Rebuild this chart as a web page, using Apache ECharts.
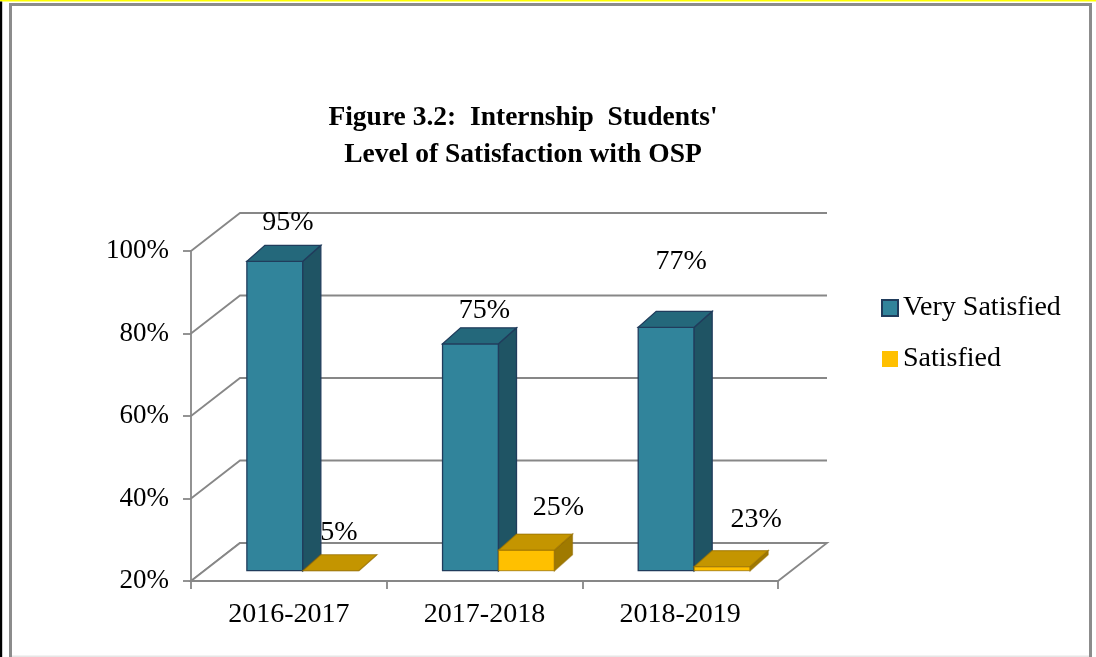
<!DOCTYPE html>
<html><head><meta charset="utf-8">
<script src="https://cdn.jsdelivr.net/npm/echarts@6/dist/echarts.min.js"></script>
<style>html,body{margin:0;padding:0;background:#fff}#c{width:1096px;height:657px}</style>
</head><body><div id="c"></div>
<script>
// ---- data ----
const categories = ['2016-2017', '2017-2018', '2018-2019'];
const verySatisfied = [95, 75, 79];
const satisfied = [5, 25, 21];
const verySatisfiedLabels = ['95%', '75%', '77%'];
const satisfiedLabels = ['5%', '25%', '23%'];
const yTicks = [20, 40, 60, 80, 100];
const yMin = 20, yMax = 100, yInterval = 20;
const titleText = "Figure 3.2:  Internship  Students'\nLevel of Satisfaction with OSP";

// ---- layout / style ----
const FONT = '"Liberation Serif", "Times New Roman", serif';
const LINE = '#878787';
const DEPTH = [49, -38];
const RECESS = [14, -10.3];
const BAR_DEPTH = [18, -16];
const BAR_FRAC = 0.286;
const LABEL_OFF_VS = [[13, -39], [14, -33], [15, -66]];
const LABEL_OFF_S = [[8, -38], [32, -42], [34, -47]];
const VS_COL = { front: '#31849b', top: '#24687b', side: '#1f5464', stroke: '#203c5c' };
const S_COL = { front: '#ffc000', top: '#c49500', side: '#a07a00', stroke: 'rgba(150,110,0,0.6)' };

function renderFrame(params, api) {
  const cs = params.coordSys;
  const x0 = cs.x, x1 = cs.x + cs.width;
  const dx = DEPTH[0], dy = DEPTH[1];
  const children = [];
  const ls = { stroke: LINE, lineWidth: 1.8, fill: null };
  yTicks.forEach(function (v) {
    const y = api.coord([0, v])[1];
    children.push({ type: 'polyline', shape: { points: [[x0, y], [x0 + dx, y + dy], [x1 + dx, y + dy]] }, style: ls });
  });
  const yb = api.coord([0, yMin])[1];
  children.push({ type: 'polygon', shape: { points: [[x0, yb], [x1, yb], [x1 + dx, yb + dy], [x0 + dx, yb + dy]] },
    style: { fill: '#ffffff', stroke: LINE, lineWidth: 1.8 } });
  return { type: 'group', children: children };
}

function makeBarRender(labels, side, col, offs) {
  return function (params, api) {
    const i = api.value(0);
    const v = Math.max(api.value(1), yMin);
    const top = api.coord([i, v]);
    const base = api.coord([i, yMin]);
    const w = api.size([1, 0])[0] * BAR_FRAC;
    const rx = RECESS[0], ry = RECESS[1], bx = BAR_DEPTH[0], by = BAR_DEPTH[1];
    const xl = top[0] + rx + (side < 0 ? -w : 0);
    const xr = xl + w;
    const yt = top[1] + ry, yb = base[1] + ry;
    const children = [];
    children.push({ type: 'rect', shape: { x: xl, y: yt, width: w, height: Math.max(yb - yt, 0) },
      style: { fill: col.front, stroke: col.stroke, lineWidth: 1.3 } });
    children.push({ type: 'polygon', shape: { points: [[xr, yt], [xr + bx, yt + by], [xr + bx, yb + by], [xr, yb]] },
      style: { fill: col.side, stroke: col.stroke, lineWidth: 1.3 } });
    children.push({ type: 'polygon', shape: { points: [[xl, yt], [xr, yt], [xr + bx, yt + by], [xl + bx, yt + by]] },
      style: { fill: col.top, stroke: col.stroke, lineWidth: 1.3 } });
    const off = offs[params.dataIndex];
    children.push({ type: 'text', style: { text: labels[params.dataIndex], x: (xl + xr) / 2 + off[0], y: yt + off[1],
      align: 'center', verticalAlign: 'middle', font: '28px ' + FONT, fill: '#000' } });
    return { type: 'group', children: children };
  };
}

const chart = echarts.init(document.getElementById('c'), null, { renderer: 'canvas' });
chart.setOption({
  animation: false,
  backgroundColor: '#ffffff',
  grid: { left: 191, right: 318, top: 251, bottom: 76, containLabel: false },
  xAxis: {
    type: 'category', data: categories,
    axisLine: { show: true, lineStyle: { color: LINE, width: 1.8 } },
    axisTick: { show: true, length: 8, lineStyle: { color: LINE, width: 1.8 } },
    axisLabel: { color: '#000', fontFamily: FONT, fontSize: 28, margin: 20 },
    splitLine: { show: false }
  },
  yAxis: {
    type: 'value', min: yMin, max: yMax, interval: yInterval,
    axisLine: { show: true, lineStyle: { color: LINE, width: 1.8 } },
    axisTick: { show: true, length: 8, lineStyle: { color: LINE, width: 1.8 } },
    axisLabel: { color: '#000', fontFamily: FONT, fontSize: 27, margin: 22, formatter: '{value}%' },
    splitLine: { show: false }
  },
  legend: {
    orient: 'vertical', left: 881, top: 294, padding: 0, itemWidth: 16, itemHeight: 16, itemGap: 23,
    textStyle: { color: '#000', fontFamily: FONT, fontSize: 28 },
    data: [
      { name: 'Very Satisfied', icon: 'rect', itemStyle: { color: VS_COL.front, borderColor: VS_COL.stroke, borderWidth: 2 } },
      { name: 'Satisfied', icon: 'rect', itemStyle: { color: S_COL.front, borderWidth: 0 } }
    ]
  },
  graphic: [
    { type: 'rect', shape: { x: 0, y: 0, width: 1096, height: 1.5 }, style: { fill: '#ffff00' }, z: 10 },
    { type: 'rect', shape: { x: 0, y: 1.5, width: 2.2, height: 660 }, style: { fill: '#000' }, z: 10 },
    { type: 'rect', shape: { x: 10.5, y: 4.5, width: 1080, height: 660 }, style: { fill: null, stroke: '#8c8c8c', lineWidth: 3 }, z: 10 },
    { type: 'rect', shape: { x: 12, y: 655.5, width: 1077, height: 1.5 }, style: { fill: '#e6e6e6' }, z: 10 },
    { type: 'text', style: { text: titleText, x: 523, y: 136.5, align: 'center', verticalAlign: 'middle',
      font: 'bold 27.5px ' + FONT, lineHeight: 37, fill: '#000' }, z: 10 }
  ],
  series: [
    { type: 'custom', name: 'frame', renderItem: renderFrame, data: [[0, yMin]], clip: false, z: 1, silent: true },
    { type: 'custom', name: 'Very Satisfied', renderItem: makeBarRender(verySatisfiedLabels, -1, VS_COL, LABEL_OFF_VS),
      data: verySatisfied.map(function (v, i) { return [i, v]; }), clip: false, z: 2,
      itemStyle: { color: VS_COL.front } },
    { type: 'custom', name: 'Satisfied', renderItem: makeBarRender(satisfiedLabels, 1, S_COL, LABEL_OFF_S),
      data: satisfied.map(function (v, i) { return [i, v]; }), clip: false, z: 3,
      itemStyle: { color: S_COL.front } }
  ]
});
</script></body></html>
